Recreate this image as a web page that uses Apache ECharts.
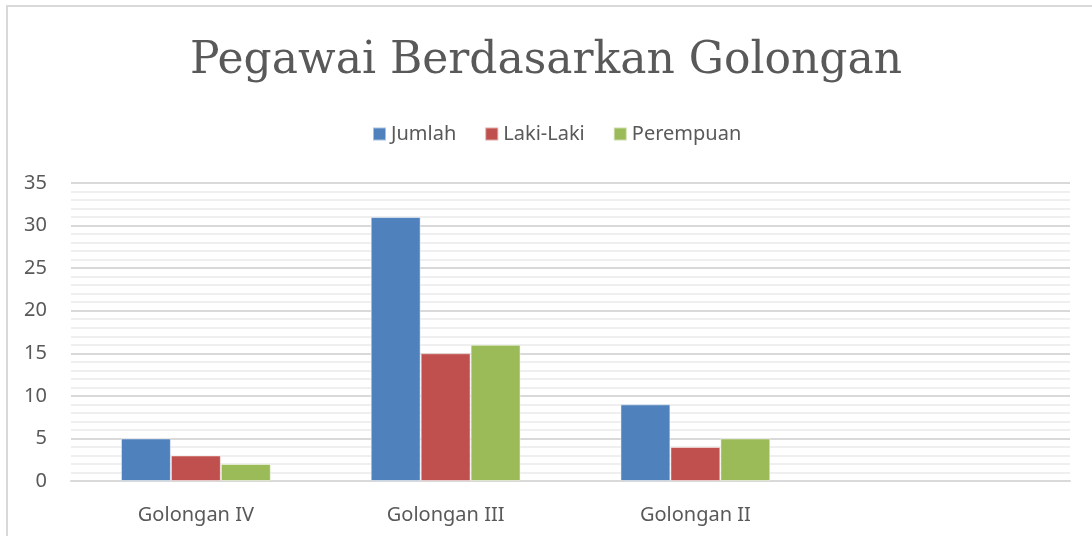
<!DOCTYPE html>
<html>
<head>
<meta charset="utf-8">
<script src="https://cdn.jsdelivr.net/npm/echarts@6/dist/echarts.min.js"></script>
<style>
html,body{margin:0;padding:0;background:#fff;}
#main{width:1092px;height:536px;}
</style>
</head>
<body>
<div id="main"></div>
<script>
// data
var categories = ["Golongan IV", "Golongan III", "Golongan II", ""];
var jumlah = [5, 31, 9, null];
var lakiLaki = [3, 15, 4, null];
var perempuan = [2, 16, 5, null];
var seriesNames = ["Jumlah", "Laki-Laki", "Perempuan"];
var colors = ["#4F81BD", "#C0504D", "#9BBB59"];

var myChart = echarts.init(document.getElementById('main'));

function bar(name, data, color){
	return {
		name: name,
		type: 'bar',
		data: data,
		barGap: '0%',
		barCategoryGap: '40%',
		itemStyle: {
			color: color,
			borderColor: 'rgba(255,255,255,0.5)',
			borderWidth: 1
		}
	};
}

var option = {
	backgroundColor: '#fff',
	animation: false,
	title: {
		text: 'Pegawai Berdasarkan Golongan',
		left: 'center',
		top: 35,
		padding: [5, 0, 5, 14],
		textStyle: {
			fontFamily: 'DejaVu Serif',
			fontWeight: 'normal',
			fontSize: 44,
			color: '#595959'
		}
	},
	legend: {
		top: 119,
		left: 367,
		itemWidth: 13,
		itemHeight: 13,
		itemGap: 28,
		icon: 'rect',
		textStyle: {
			fontFamily: 'Noto Sans',
			fontSize: 20,
			color: '#595959'
		},
		data: seriesNames
	},
	grid: {
		left: 71,
		right: 22,
		top: 183,
		bottom: 55,
		containLabel: false
	},
	xAxis: {
		type: 'category',
		data: categories,
		axisLine: { lineStyle: { color: '#d9d9d9', width: 2 } },
		axisTick: { show: false },
		axisLabel: {
			fontFamily: 'Noto Sans',
			fontSize: 20,
			color: '#595959',
			margin: 24
		}
	},
	yAxis: {
		type: 'value',
		min: 0,
		max: 35,
		interval: 5,
		axisLine: { show: false },
		axisTick: { show: false },
		axisLabel: {
			fontFamily: 'Noto Sans',
			fontSize: 20,
			color: '#595959',
			margin: 24
		},
		splitLine: { lineStyle: { color: '#d9d9d9', width: 2 } },
		minorTick: { show: false, splitNumber: 5 },
		minorSplitLine: { show: true, lineStyle: { color: '#efefef', width: 2 } }
	},
	graphic: [{
		type: 'rect',
		silent: true,
		shape: { x: 7, y: 6, width: 1200, height: 700 },
		style: { fill: 'none', stroke: '#d9d9d9', lineWidth: 2 },
		z: -1
	}],
	series: [
		bar(seriesNames[0], jumlah, colors[0]),
		bar(seriesNames[1], lakiLaki, colors[1]),
		bar(seriesNames[2], perempuan, colors[2])
	]
};
myChart.setOption(option);
</script>
</body>
</html>
